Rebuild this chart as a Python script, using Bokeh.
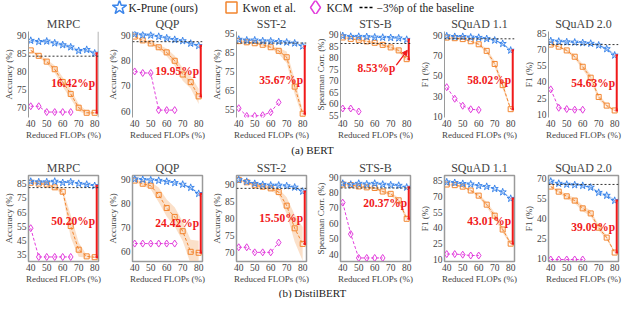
from bokeh.plotting import figure
from bokeh.layouts import column, row
from bokeh.models import Range1d, Span, FixedTicker, Arrow, NormalHead
from bokeh.embed import file_html
from bokeh.resources import INLINE
from bokeh.core.properties import value

# ---------------- data ----------------
FLOPS = [40, 45, 50, 55, 60, 65, 70, 75, 80]
X_TICKS = [40, 50, 60, 70, 80]
TITLES = ["MRPC", "QQP", "SST-2", "STS-B", "SQuAD 1.1", "SQuAD 2.0"]
YLABELS = ["Accuracy (%)", "Accuracy (%)", "Accuracy (%)", "Spearman Corr. (%)", "F1 (%)", "F1 (%)"]

# BERT
BERT_MRPC_KP = [88.5, 88.2, 88.3, 87.8, 87.3, 86.7, 85.7, 86.0, 85.0]
BERT_MRPC_KP_ERR = [0.4, 0.3, 0.5, 0.4, 0.5, 0.5, 0.5, 0.4, 0.4]
BERT_MRPC_KW = [85.8, 84.3, 82.7, 80.6, 77.1, 73.8, 70.0, 68.6, 68.6]
BERT_MRPC_KW_ERR = [0.3, 0.4, 0.6, 1.0, 1.3, 1.3, 1.0, 0.5, 0.3]
BERT_MRPC_KCM = [70.4, 70.4, 68.8, 68.8, 68.8, 68.8]

BERT_QQP_KP = [90.4, 90.0, 89.9, 89.4, 88.8, 88.2, 87.7, 86.7, 85.8]
BERT_QQP_KP_ERR = [0.4, 0.4, 0.4, 0.4, 0.4, 0.4, 0.4, 0.5, 0.6]
BERT_QQP_KW = [89.4, 87.9, 86.7, 85.2, 83.2, 79.9, 74.5, 71.5, 65.9]
BERT_QQP_KW_ERR = [0.3, 0.5, 0.7, 1.0, 1.5, 2.0, 2.5, 2.5, 3.0]
BERT_QQP_KCM = [75.7, 75.1, 75.1, 60.5, 60.5, 60.5]

BERT_SST2_KP = [91.8, 91.4, 91.4, 91.0, 90.9, 90.6, 90.3, 89.8, 88.2]
BERT_SST2_KP_ERR = [0.4, 0.4, 0.4, 0.4, 0.4, 0.4, 0.4, 0.4, 0.5]
BERT_SST2_KW = [90.9, 90.3, 89.8, 89.0, 87.7, 85.8, 82.4, 66.9, 52.6]
BERT_SST2_KW_ERR = [0.3, 0.4, 0.5, 0.6, 0.8, 1.5, 3.0, 4.0, 2.0]
BERT_SST2_KCM = [55.5, 51.4, 51.4, 51.8, 53.4, 58.6]

BERT_STSB_KP = [89.4, 89.1, 89.1, 89.0, 88.8, 88.7, 88.6, 88.4, 87.8]
BERT_STSB_KP_ERR = [0.3, 0.3, 0.3, 0.3, 0.3, 0.3, 0.3, 0.3, 0.4]
BERT_STSB_KW = [88.7, 88.1, 87.7, 87.0, 86.4, 85.5, 84.4, 83.1, 79.3]
BERT_STSB_KW_ERR = [0.3, 0.3, 0.4, 0.4, 0.5, 0.6, 0.7, 0.8, 1.0]
BERT_STSB_KCM = [57.9, 57.9, 56.6]

BERT_SQ1_KP = [89.1, 88.5, 88.5, 87.9, 87.6, 86.4, 84.9, 81.6, 75.0]
BERT_SQ1_KP_ERR = [0.5, 0.5, 0.5, 0.5, 0.5, 0.6, 0.7, 0.8, 1.0]
BERT_SQ1_KW = [87.6, 87.0, 86.1, 84.0, 81.0, 74.5, 61.6, 40.7, 17.0]
BERT_SQ1_KW_ERR = [0.5, 0.5, 0.6, 0.8, 1.2, 2.0, 3.0, 3.5, 1.0]
BERT_SQ1_KCM = [38.7, 27.3, 20.4, 16.9, 16.3]

BERT_SQ2_KP = [77.8, 77.3, 76.8, 76.5, 76.0, 75.4, 73.8, 70.4, 64.5]
BERT_SQ2_KP_ERR = [0.6, 0.6, 0.6, 0.6, 0.6, 0.7, 0.8, 1.2, 1.5]
BERT_SQ2_KW = [74.4, 72.5, 69.0, 63.2, 53.9, 43.8, 26.0, 18.0, 13.5]
BERT_SQ2_KW_ERR = [0.6, 0.8, 1.2, 1.8, 2.5, 3.0, 2.5, 1.5, 0.8]
BERT_SQ2_KCM = [33.0, 16.0, 14.8, 14.2, 14.2]

BERT_BASE = [84.2, 87.4, 89.9, 86.1, 86.4, 74.4]
BERT_YRANGE = [(67.3, 91.0), (57.6, 91.4), (50.6, 96.0), (54.0, 91.3), (8.8, 93.6), (7.0, 86.5)]
BERT_YTICKS = [[70, 75, 80, 85, 90], [60, 70, 80, 90], [55, 65, 75, 85, 95],
               [55, 60, 65, 70, 75, 80, 85, 90], [10, 30, 50, 70, 90], [10, 25, 40, 55, 70, 85]]
BERT_GAPS = ["16.42%p", "19.95%p", "35.67%p", "8.53%p", "58.02%p", "54.63%p"]

# DistilBERT
DIST_MRPC_KP = [86.5, 86.1, 86.1, 86.5, 85.6, 86.1, 85.0, 84.4, 83.5]
DIST_MRPC_KP_ERR = [0.5, 0.5, 0.5, 0.5, 0.5, 0.5, 0.5, 0.5, 0.5]
DIST_MRPC_KW = [85.6, 85.0, 84.4, 82.4, 79.3, 55.2, 38.6, 33.9, 33.3]
DIST_MRPC_KW_ERR = [0.5, 0.6, 0.8, 1.0, 2.0, 8.0, 5.0, 1.0, 0.5]
DIST_MRPC_KCM = [53.7, 33.5, 33.5, 33.5, 33.5, 33.5]

DIST_QQP_KP = [90.0, 89.8, 89.6, 89.4, 89.0, 88.5, 87.8, 86.5, 84.0]
DIST_QQP_KP_ERR = [0.3, 0.3, 0.3, 0.3, 0.3, 0.3, 0.4, 0.5, 0.6]
DIST_QQP_KW = [89.4, 88.1, 87.3, 83.5, 78.1, 74.4, 68.5, 60.0, 59.6]
DIST_QQP_KW_ERR = [0.5, 0.8, 1.5, 3.0, 3.5, 4.0, 4.0, 5.0, 5.0]
DIST_QQP_KCM = [63.4, 63.4, 63.4, 63.4, 63.4, 63.4]

DIST_SST2_KP = [91.4, 90.9, 90.3, 90.0, 89.8, 89.8, 89.6, 89.2, 88.0]
DIST_SST2_KP_ERR = [0.3, 0.3, 0.3, 0.3, 0.3, 0.3, 0.3, 0.3, 0.4]
DIST_SST2_KW = [91.4, 90.7, 89.8, 89.4, 88.9, 87.8, 83.8, 77.1, 72.5]
DIST_SST2_KW_ERR = [0.2, 0.3, 0.4, 0.5, 0.6, 1.0, 2.5, 4.0, 5.0]
DIST_SST2_KCM = [71.5, 71.5, 70.0, 70.0, 70.0, 72.9]

DIST_STSB_KP = [85.8, 85.2, 85.8, 85.4, 85.8, 85.2, 84.8, 84.5, 83.3]
DIST_STSB_KP_ERR = [0.5, 0.5, 0.5, 0.5, 0.5, 0.5, 0.5, 0.5, 0.6]
DIST_STSB_KW = [85.2, 84.8, 83.9, 83.3, 82.9, 80.6, 79.1, 74.9, 62.9]
DIST_STSB_KW_ERR = [0.4, 0.5, 0.6, 0.7, 0.8, 1.0, 1.2, 1.5, 2.0]
DIST_STSB_KCM = [73.4, 53.0, 37.5, 37.5, 37.5, 37.5]

DIST_SQ1_KP = [83.6, 83.0, 82.1, 81.6, 80.1, 79.3, 77.3, 74.1, 67.9]
DIST_SQ1_KP_ERR = [0.5, 0.5, 0.5, 0.5, 0.6, 0.6, 0.7, 0.8, 1.0]
DIST_SQ1_KW = [81.3, 80.7, 79.3, 75.6, 70.7, 62.1, 51.6, 38.4, 24.9]
DIST_SQ1_KW_ERR = [0.6, 0.7, 0.9, 1.2, 1.6, 2.5, 3.0, 3.0, 1.5]
DIST_SQ1_KCM = [15.0, 15.0, 14.4, 13.6, 13.6]

DIST_SQ2_KP = [67.8, 66.2, 65.5, 65.1, 64.6, 63.3, 59.4, 57.2, 53.4]
DIST_SQ2_KP_ERR = [0.6, 0.6, 0.6, 0.6, 0.7, 0.8, 1.0, 1.2, 1.2]
DIST_SQ2_KW = [63.9, 60.1, 56.6, 53.4, 47.6, 43.8, 33.1, 25.7, 14.5]
DIST_SQ2_KW_ERR = [0.8, 1.2, 1.6, 2.0, 2.2, 2.2, 2.0, 1.5, 0.8]
DIST_SQ2_KCM = [9.3, 9.3, 9.3, 9.3, 9.3]

DIST_BASE = [82.2, None, 88.9, 82.9, None, 65.5]
DIST_YRANGE = [(30.3, 90.7), (56.0, 91.5), (67.3, 92.7), (35.2, 91.0), (7.9, 89.9), (7.8, 72.2)]
DIST_YTICKS = [[35, 45, 55, 65, 75, 85], [60, 70, 80, 90], [70, 75, 80, 85, 90],
               [40, 50, 60, 70, 80, 90], [10, 25, 40, 55, 70, 85], [10, 25, 40, 55, 70]]
DIST_GAPS = ["50.20%p", "24.42%p", "15.50%p", "20.37%p", "43.01%p", "39.09%p"]

LEGEND_LABELS = ["K-Prune (ours)", "Kwon et al.", "KCM", "\u22123%p of the baseline"]
CAPTIONS = ["(a) BERT", "(b) DistilBERT"]

# ---------------- style ----------------
BLUE = "#3d86ea"
BLUE_BAND = "#a9cbf5"
ORANGE = "#f2852e"
ORANGE_BAND = "#f8c79c"
MAGENTA = "#e23ddc"
RED = "#f01a1a"
FONT = "Liberation Serif"
PW, PH = 104, 128


def band(p, x, y, err, color):
    lo = [a - e for a, e in zip(y, err)]
    hi = [a + e for a, e in zip(y, err)]
    p.varea(x=x, y1=lo, y2=hi, fill_color=color, fill_alpha=0.55)


def make_panel(title, ylabel, kp, kp_err, kw, kw_err, kcm, base, yr, yticks, gap,
               boxed, right_spine=False, arrow=False):
    p = figure(width=PW, height=PH, x_range=Range1d(38.6, 82.4), y_range=Range1d(*yr),
               output_backend="svg", toolbar_location=None,
               min_border_left=0, min_border_right=6, min_border_top=0, min_border_bottom=0)
    p.title.text = title
    p.title.align = "center"
    p.title.text_font = FONT
    p.title.text_font_size = "12px"
    p.title.text_font_style = "normal"
    p.title.standoff = 1
    p.grid.visible = False
    p.background_fill_color = "white"
    for ax in (p.xaxis[0], p.yaxis[0]):
        ax.major_label_text_font = FONT
        ax.major_label_text_font_size = "9.5px"
        ax.axis_label_text_font = FONT
        ax.axis_label_text_font_size = "9px"
        ax.axis_label_text_font_style = "normal"
        ax.minor_tick_line_color = None
        ax.major_tick_in = 0
        ax.major_tick_out = 0
        ax.major_label_standoff = 2
        ax.axis_label_standoff = 0
    p.xaxis.ticker = FixedTicker(ticks=X_TICKS)
    p.yaxis.ticker = FixedTicker(ticks=yticks)
    p.xaxis.axis_label = "Reduced FLOPs (%)"
    p.yaxis.axis_label = ylabel
    if boxed:
        p.outline_line_color = "#9a9a9a"
        p.outline_line_width = 1.5
        p.axis.axis_line_color = "#9a9a9a"
    else:
        p.outline_line_color = None
        p.yaxis.axis_line_color = "#9a9a9a"
        p.xaxis.axis_line_color = None
    if right_spine:
        p.add_layout(Span(location=p.x_range.end, dimension="height",
                          line_color="#9a9a9a", line_width=1.5))

    band(p, FLOPS, kp, kp_err, BLUE_BAND)
    band(p, FLOPS, kw, kw_err, ORANGE_BAND)
    if base is not None:
        p.add_layout(Span(location=base, dimension="width", line_color="#333333",
                          line_width=1, line_dash="2 2"))

    xk = FLOPS[:len(kcm)]
    p.line(xk, kcm, line_color=MAGENTA, line_dash="3 2", line_width=1)
    p.scatter(xk, kcm, marker="diamond", size=7, line_color=MAGENTA, fill_alpha=0, line_width=1)
    p.line(FLOPS, kw, line_color=ORANGE, line_dash="3 2", line_width=1)
    p.scatter(FLOPS, kw, marker="square", size=5, line_color=ORANGE, fill_alpha=0, line_width=1)
    p.line(FLOPS, kp, line_color=BLUE, line_dash="3 2", line_width=1)
    p.scatter(FLOPS, kp, marker="star", size=7.5, line_color=BLUE, fill_alpha=0, line_width=1)

    # gap bar
    bx = FLOPS[-1] + 1.3
    top, bot = kp[-1], kw[-1]
    p.segment(x0=[bx, bx - 0.8, bx - 0.8], y0=[top, top, bot],
              x1=[bx, bx + 0.8, bx + 0.8], y1=[bot, top, bot],
              line_color=RED, line_width=2)
    span = yr[1] - yr[0]
    if arrow:
        ty = bot - 0.1 * span
        tx = FLOPS[-1] - 7.0
        p.text(x=[tx], y=[ty], text=[gap], text_align="right", text_baseline="middle",
               text_color=RED, text_font=value(FONT), text_font_style="bold",
               text_font_size="11.5px")
        p.add_layout(Arrow(end=NormalHead(size=5, fill_color=RED, line_color=RED),
                           x_start=tx + 0.5, y_start=ty + 0.03 * span,
                           x_end=bx - 0.9, y_end=top - 0.55 * (top - bot),
                           line_color=RED, line_width=1.3))
    else:
        p.text(x=[bx - 1.0], y=[(top + bot) / 2], text=[gap], text_align="right",
               text_baseline="middle", text_color=RED, text_font=value(FONT),
               text_font_style="bold", text_font_size="11.5px")
    return p


bert = [
    (BERT_MRPC_KP, BERT_MRPC_KP_ERR, BERT_MRPC_KW, BERT_MRPC_KW_ERR, BERT_MRPC_KCM),
    (BERT_QQP_KP, BERT_QQP_KP_ERR, BERT_QQP_KW, BERT_QQP_KW_ERR, BERT_QQP_KCM),
    (BERT_SST2_KP, BERT_SST2_KP_ERR, BERT_SST2_KW, BERT_SST2_KW_ERR, BERT_SST2_KCM),
    (BERT_STSB_KP, BERT_STSB_KP_ERR, BERT_STSB_KW, BERT_STSB_KW_ERR, BERT_STSB_KCM),
    (BERT_SQ1_KP, BERT_SQ1_KP_ERR, BERT_SQ1_KW, BERT_SQ1_KW_ERR, BERT_SQ1_KCM),
    (BERT_SQ2_KP, BERT_SQ2_KP_ERR, BERT_SQ2_KW, BERT_SQ2_KW_ERR, BERT_SQ2_KCM),
]
dist = [
    (DIST_MRPC_KP, DIST_MRPC_KP_ERR, DIST_MRPC_KW, DIST_MRPC_KW_ERR, DIST_MRPC_KCM),
    (DIST_QQP_KP, DIST_QQP_KP_ERR, DIST_QQP_KW, DIST_QQP_KW_ERR, DIST_QQP_KCM),
    (DIST_SST2_KP, DIST_SST2_KP_ERR, DIST_SST2_KW, DIST_SST2_KW_ERR, DIST_SST2_KCM),
    (DIST_STSB_KP, DIST_STSB_KP_ERR, DIST_STSB_KW, DIST_STSB_KW_ERR, DIST_STSB_KCM),
    (DIST_SQ1_KP, DIST_SQ1_KP_ERR, DIST_SQ1_KW, DIST_SQ1_KW_ERR, DIST_SQ1_KCM),
    (DIST_SQ2_KP, DIST_SQ2_KP_ERR, DIST_SQ2_KW, DIST_SQ2_KW_ERR, DIST_SQ2_KCM),
]

row1 = [make_panel(TITLES[i], YLABELS[i], *bert[i], BERT_BASE[i], BERT_YRANGE[i],
                   BERT_YTICKS[i], BERT_GAPS[i], boxed=False, right_spine=(i == 0),
                   arrow=(i == 3)) for i in range(6)]
row2 = [make_panel(TITLES[i], YLABELS[i], *dist[i], DIST_BASE[i], DIST_YRANGE[i],
                   DIST_YTICKS[i], DIST_GAPS[i], boxed=True) for i in range(6)]


def blank(h):
    f = figure(width=624, height=h, x_range=Range1d(0, 624), y_range=Range1d(0, h),
               output_backend="svg", toolbar_location=None, x_axis_location=None,
               y_axis_location=None, min_border=0)
    f.grid.visible = False
    f.outline_line_color = None
    return f


# legend strip (layout positions in screen-like units)
leg = blank(14)
leg.scatter([119], [7], marker="star", size=15, line_color=BLUE, fill_alpha=0, line_width=1.5)
leg.scatter([231], [7], marker="square", size=11, line_color=ORANGE, fill_alpha=0, line_width=1.5)
leg.scatter([315], [7], marker="diamond", size=15, line_color=MAGENTA, fill_alpha=0, line_width=1.5)
leg.segment(x0=[359], y0=[7], x1=[372], y1=[7], line_color="black", line_width=1.3, line_dash="3 2")
leg.text(x=[128, 242, 326, 376], y=[7] * 4, text=LEGEND_LABELS, text_baseline="middle",
         text_font=value(FONT), text_font_size="11.5px", text_color="#222222")

cap_a = blank(16)
cap_a.text(x=[312], y=[9], text=[CAPTIONS[0]], text_align="center", text_baseline="middle",
           text_font=value(FONT), text_font_size="11px", text_color="#222222")
cap_b = blank(12)
cap_b.text(x=[312], y=[6], text=[CAPTIONS[1]], text_align="center", text_baseline="middle",
           text_font=value(FONT), text_font_size="11px", text_color="#222222")

layout = column(leg, row(*row1), cap_a, row(*row2), cap_b, spacing=0)
open("out.html", "w").write(file_html(layout, INLINE))
